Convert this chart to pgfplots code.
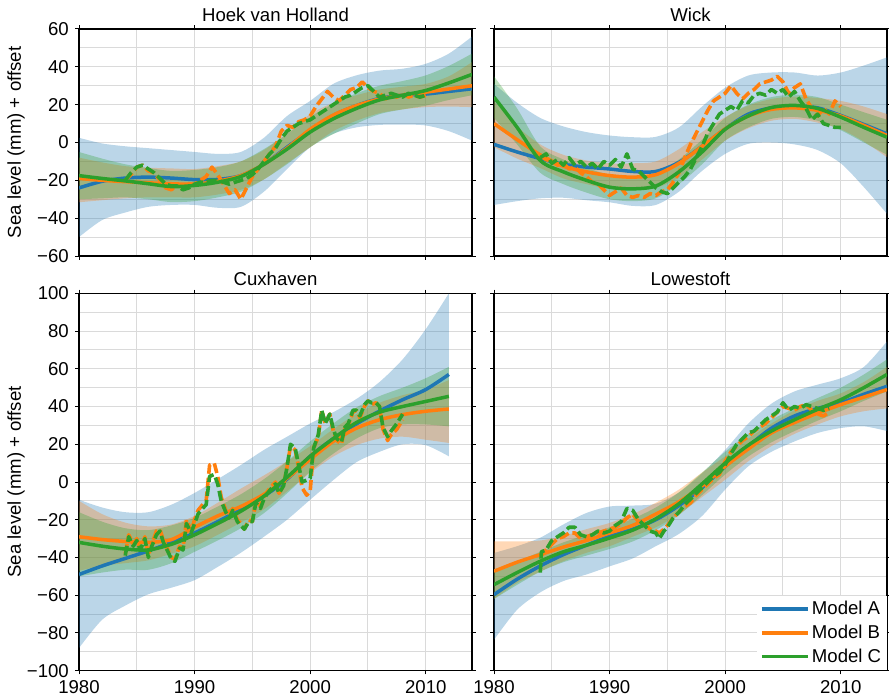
\documentclass[border=0pt]{standalone}
\usepackage{pgfplots}
\pgfplotsset{compat=1.18}
\usepackage{pgfplotstable}
\usepgfplotslibrary{fillbetween}
\usepackage{fontspec}
\setmainfont{Liberation Sans}

\definecolor{cA}{HTML}{1F77B4}
\definecolor{cB}{HTML}{FF7F0E}
\definecolor{cC}{HTML}{2CA02C}
\definecolor{gridc}{HTML}{DADADA}

% model fits and bands: yr, A, A low/high, B, B low/high, C, C low/high
\pgfplotstableread{
yr   A     Alo   Ahi   B     Blo   Bhi   C     Clo   Chi
1980 -24   -50   2.5   -19   -31.6 -8    -17.5 -30   -5
1982 -20.5 -41   -0.5  -20   -30.5 -10.5 -19   -29.5 -8.5
1984 -18.8 -37   -2    -20.7 -29.5 -12.5 -20.3 -29   -11.5
1986 -18.3 -34   -3    -21.3 -29   -13.3 -21.8 -30   -13.5
1988 -18.8 -33   -4    -21.8 -29   -13.7 -23.3 -31.5 -15
1990 -19.6 -33   -5    -22   -29   -14   -22.7 -31   -14.5
1992 -19.5 -34.5 -6    -20.5 -27.5 -12.5 -21   -29   -13
1994 -17.5 -34   -5    -17.5 -25   -10   -18   -26   -10
1996 -11.5 -26   2.5   -11.5 -19.5 -4    -11.5 -19.5 -3.5
1998 -2.5  -14   14    -3    -11   5     -3.5  -11.5 4.5
2000 6.3   -2.5  22    7     -2.5  15    5.5   -2.5  13.5
2002 14.3  4.6   31    14.5  6     21    12.5  4.5   20.5
2004 19.5  8     35.5  19.5  11.5  25    18    10    26
2006 23.3  9.3   38    23    15.5  28    22.5  15    30
2008 25    9.5   39    25    17.5  29.5  25    17.5  32.5
2010 25.6  9     41.6  26.6  18.7  31    27.5  19.5  35.5
2012 27    6     47    28.3  19    35    31.5  22.5  40.5
2014 28.4  1     56    30    18.7  42.5  36    25    47
}\hoekfit

\pgfplotstableread{
yr   A     Alo   Ahi   B     Blo   Bhi   C     Clo   Chi
1980 -1    -33   31    10    -2.5  22    24    13    35
1982 -5    -31   21    1.5   -8.5  8.5   8     -1    18
1984 -8.5  -29.5 13    -6.5  -13.5 -1    -9.5  -16   -2
1986 -11.5 -29.2 8.5   -12.5 -19   -6.5  -15.5 -22   -9
1988 -13   -30.5 5.5   -15.5 -22   -9.5  -20   -26.5 -13.5
1990 -14   -31.6 3.7   -17.5 -24.5 -11   -23.6 -30   -17
1992 -15.3 -33.5 2.8   -18.3 -25   -11   -24.5 -31   -18
1994 -15.3 -33   3     -17   -24   -10   -23   -29.5 -16.5
1996 -10.5 -26   8     -11   -18.5 -3.5  -15.5 -22   -9
1998 -2    -15   19    -2    -9    5.5   -5    -11.5 1.5
2000 7.2   -6    29    7.2   1     13.4  7     1     13
2002 15    -0.7  35.4  14    7.5   19.5  14    8     20
2004 18.3  0     37    17.5  11.5  23    18.5  12.5  24
2006 19.3  -1    37    18.3  12.5  24.3  19.6  13.5  25.3
2008 18.3  -4    35.4  17    10.5  23.5  18    11.5  24
2010 14.3  -11   37    14    7     22    13.4  6.5   20
2012 9.5   -23.6 40.7  9     0.5   19    8     0     16
2014 4.6   -37.7 45    3.7   -7.8  15    2.8   -6.5  12
}\wickfit

\pgfplotstableread{
yr   A     Alo   Ahi   B     Blo   Bhi   C     Clo   Chi
1980 -49   -88   -9.4  -29   -47   -10   -32   -50   -16
1982 -44.5 -73   -13.5 -30.5 -44.5 -17   -34   -48   -21
1984 -40.5 -65.5 -16   -31.5 -43   -21.5 -35.5 -46.5 -24.5
1986 -36.5 -59.5 -16   -32   -41.5 -23.5 -36   -46.5 -25.5
1988 -32   -56   -12   -30.5 -38   -22.5 -33   -43   -23
1990 -27   -52   -5.8  -24   -34   -18   -28   -37   -19
1992 -21   -45   1.5   -18   -28   -11   -22   -31   -13
1994 -14.5 -37.5 9     -13   -21.5 -3.5  -15.5 -24.5 -6.5
1996 -7.5  -29   17    -6.5  -14.5 3.5   -7.5  -16.5 1.5
1998 1.5   -20   24    2     -5    11    2.5   -6    11
2000 13.6  -9.4  31    12    4.8   19    13.6  5.5   21.5
2002 23    1     37    21.5  13.5  28    23    15    31
2004 30.8  10.5  44    28.5  19.5  36    31.5  23    39.5
2006 37.6  16    53    33    23    42    37    28.5  45.5
2008 43.6  20    65    35.7  24    46    40    30.5  50
2010 49    19.5  81    37.5  22.4  49    42.7  30.5  55
2012 57    13.6  100   38.7  20.7  54    45.4  29.5  61
}\cuxfit

\pgfplotstableread{
yr   A     Alo   Ahi   B     Blo   Bhi   C     Clo   Chi
1980 -59.7 -83.6 -37.6 -47.3 -62   -31.4 -54.4 -62   -46.5
1982 -51.5 -67.7 -34   -42.5 -53.5 -31.5 -48   -54.5 -42
1984 -44.5 -58.5 -29.5 -38.5 -47.5 -31   -42   -47.5 -37
1986 -38.5 -52.5 -22.5 -34.5 -42   -28.5 -37   -42.5 -32
1988 -33.5 -49   -16.4 -31   -37.5 -25   -33.5 -39   -28
1990 -28.8 -44.7 -13   -27   -34   -21.7 -29.7 -35.5 -24
1992 -25   -40.5 -12.5 -23   -29   -17   -25.5 -31.5 -19.5
1994 -20   -34   -11.5 -17   -24   -11   -19.5 -25.5 -13.5
1996 -12.5 -27.5 -5.5  -10.5 -17   -4    -11.5 -17.5 -5.5
1998 -3    -18   4.5   -2    -8    5     -1    -7    5
2000 8.3   -4    17    8.3   1.2   13.6  10    4     16
2002 19    8.3   31    17.5  11    23    19.5  13.5  25.5
2004 28.5  16    41.5  26    19    31    27    21    33
2006 35    21.5  48    31.5  25.5  38    33    27    39
2008 39    26    51.6  36.5  30.5  43    38.5  32.5  44.5
2010 42    28.6  55    41    34.8  47    43.6  37.5  50
2012 46.5  29.5  61    45    37.5  53    50    43    57
2014 50.7  27    74.5  49    39    61    57    48    65
}\lowfit

% observed (dashed) series: yr, B, C
\pgfplotstableread{
yr     B    C
1984.0 -20  -20
1984.5 -17  -16
1985.0 -13  -13
1985.5 -12  -12
1986.0 -15  -14
1986.5 -16  -16
1987.0 -20  -19
1987.5 -24  -22
1988.0 -25  -23
1988.5 -22  -23
1989.0 -24  -25
1989.5 -22  -24
1990.0 -22  -22
1990.5 -20  -21
1991.0 -18  -21
1991.5 -13  -20
1992.0 -17  -20
1992.5 -22  -21
1993.0 -27  -22
1993.5 -25  -21
1994.0 -30  -20
1994.5 -24  -19
1995.0 -18  -17
1995.5 -14  -14
1996.0 -10  -10
1996.5 -6   -6
1997.0 -2   -3
1997.5 6    2
1998.0 9    6
1998.5 8    8
1999.0 11   10
1999.5 12   11
2000.0 14   12
2000.5 19   14
2001.0 23   16
2001.5 27   18
2002.0 24   20
2002.5 22   22
2003.0 25   24
2003.5 28   25
2004.0 29   27
2004.5 32   29
2005.0 29   30
2005.5 27   27
2006.0 26   24
2006.5 23   25
2007.0 25   26
2007.5 24   25
2008.0 26   24
2008.5 24   26
2009.0 25   25
2009.5 24   24
2010.0 25   25
}\hoekobs

\pgfplotstableread{
yr     B    C
1984.0 -7   -8
1984.5 -9   -6
1985.0 -10  -11
1985.5 -12  -9
1986.0 -11  -12
1986.5 -14  -8
1987.0 -13  -12
1987.5 -16  -10
1988.0 -18  -13
1988.5 -21  -11
1989.0 -22  -14
1989.5 -25  -10
1990.0 -28  -12
1990.5 -26  -9
1991.0 -24  -13
1991.5 -28  -6
1992.0 -29  -14
1992.5 -28  -15
1993.0 -29  -18
1993.5 -27  -21
1994.0 -28  -24
1994.5 -26  -26
1995.0 -25  -27
1995.5 -21  -24
1996.0 -16  -21
1996.5 -8   -18
1997.0 -1   -14
1997.5 5    -8
1998.0 11   -2
1998.5 17   5
1999.0 22   10
1999.5 24   15
2000.0 26   17
2000.5 30   19
2001.0 26   17
2001.5 23   22
2002.0 26   21
2002.5 28   25
2003.0 31   26
2003.5 32   25
2004.0 33   28
2004.5 35   26
2005.0 32   28
2005.5 26   24
2006.0 29   27
2006.5 31   22
2007.0 23   18
2007.5 18   12
2008.0 14   15
2008.5 18   10
2009.0 15   9
2009.5 22   8
2010.0 19   8
}\wickobs

\pgfplotstableread{
yr     B    C
1984.0 -38  -39
1984.3 -28  -29
1984.7 -33  -34
1985.0 -30  -31
1985.3 -36  -36
1985.7 -29  -30
1986.0 -39  -40
1986.3 -33  -34
1986.7 -26  -28
1987.0 -25  -26
1987.3 -31  -32
1987.7 -36  -37
1988.0 -40  -41
1988.3 -41  -42
1988.7 -34  -35
1989.0 -35  -36
1989.3 -20  -22
1989.7 -26  -27
1990.0 -20  -22
1990.3 -15  -17
1990.7 -12  -14
1991.0 -10  -12
1991.3 9    3
1991.7 10   4
1992.0 3    -1
1992.3 -8   -10
1992.7 -15  -16
1993.0 -18  -19
1993.3 -14  -15
1993.7 -20  -21
1994.0 -22  -23
1994.3 -25  -25
1994.7 -20  -21
1995.0 -21  -21
1995.3 -10  -11
1995.7 -13  -14
1996.0 -8   -9
1996.3 -5   -6
1996.7 -2   -3
1997.0 0    -1
1997.3 -6   -6
1997.7 -2   -2
1998.0 8    8
1998.3 19   20
1998.7 17   18
1999.0 8    9
1999.3 -3   0
1999.7 -7   1
2000.0 -5   2
2000.3 18   18
2000.7 24   25
2001.0 38   38
2001.3 31   31
2001.7 36   36
2002.0 27   28
2002.3 22   23
2002.7 20   21
2003.0 28   29
2003.3 30   31
2003.7 37   38
2004.0 38   38
2004.3 34   35
2004.7 40   41
2005.0 43   43
2005.3 41   42
2005.7 42   42
2006.0 40   40
2006.3 28   29
2006.7 22   24
2007.0 25   27
2007.5 28   31
2008.0 33   36
}\cuxobs

\pgfplotstableread{
yr     B    C
1984.0 -40  -48
1984.1 -39  -37
1984.5 -36  -36
1985.0 -33  -31
1985.5 -30  -29
1986.0 -29  -27
1986.5 -27  -24
1987.0 -27  -24
1987.5 -30  -28
1988.0 -29  -29
1988.5 -28  -28
1989.0 -27  -26
1989.5 -26  -27
1990.0 -25  -26
1990.5 -24  -23
1991.0 -22  -21
1991.5 -19  -14
1992.0 -17  -15
1992.5 -21  -20
1993.0 -22  -23
1993.5 -25  -26
1994.0 -26  -27
1994.3 -27  -30
1994.7 -25  -26
1995.0 -23  -24
1995.5 -19  -19
1996.0 -16  -16
1996.5 -13  -12
1997.0 -11  -9
1997.5 -7   -6
1998.0 -4   -3
1998.5 -1   0
1999.0 2    3
1999.5 4    5
2000.0 11   9
2000.5 16   15
2001.0 19   20
2001.5 22   23
2002.0 24   26
2002.5 27   27
2003.0 29   30
2003.5 31   33
2004.0 34   35
2004.5 37   37
2005.0 40   42
2005.5 39   38
2006.0 38   40
2006.5 40   39
2007.0 41   41
2007.5 38   40
2008.0 36   39
2008.5 35   38
2009.0 37   39
}\lowobs

\pgfplotsset{
  panel/.style={
    scale only axis, width=196.5pt,
    xmin=1980, xmax=2014,
    xtick={1980,1990,2000,2010},
    minor xtick={1985,1995,2005},
    grid=both,
    major grid style={gridc, line width=0.5pt},
    minor grid style={gridc, line width=0.5pt},
    tick align=outside,
    major tick length=1.8pt,
    minor tick length=0pt,
    tick style={black, line width=0.5pt},
    axis line style={line width=0.6pt},
    xticklabels={},
    yticklabels={},
    every axis title/.style={at={(axis description cs:0.5,1)}, anchor=base,
      yshift=3.8pt},
    every axis y label/.style={at={([xshift=-31.5pt]axis description cs:0,0.5)},
      rotate=90, anchor=center},
  },
  toprow/.style={height=113.5pt, ymin=-60, ymax=60,
    ytick={-60,-40,-20,0,20,40,60}, minor ytick={-50,-30,-10,10,30,50}},
  botrow/.style={height=188.7pt, ymin=-100, ymax=100,
    ytick={-100,-80,-60,-40,-20,0,20,40,60,80,100},
    minor ytick={-90,-70,-50,-30,-10,10,30,50,70,90},
    xticklabels={1980,1990,2000,2010}},
  lefty/.style={ylabel={Sea level (mm) + offset}},
  fit/.style={line width=1.75pt, smooth},
  obs/.style={line width=1.8pt, dash pattern=on 5pt off 2pt, line join=round},
}

\newcommand\drawmodels[2]{%
  \addplot[name path=ahi, draw=none, smooth] table[x=yr, y=Ahi] {#1};
  \addplot[name path=alo, draw=none, smooth] table[x=yr, y=Alo] {#1};
  \addplot[cA, fill opacity=0.3, draw=none] fill between[of=ahi and alo];
  \addplot[name path=bhi, draw=none, smooth] table[x=yr, y=Bhi] {#1};
  \addplot[name path=blo, draw=none, smooth] table[x=yr, y=Blo] {#1};
  \addplot[cB, fill opacity=0.3, draw=none] fill between[of=bhi and blo];
  \addplot[name path=chi, draw=none, smooth] table[x=yr, y=Chi] {#1};
  \addplot[name path=clo, draw=none, smooth] table[x=yr, y=Clo] {#1};
  \addplot[cC, fill opacity=0.3, draw=none] fill between[of=chi and clo];
  \addplot[cA, fit] table[x=yr, y=A] {#1};
  \addplot[cB, fit] table[x=yr, y=B] {#1};
  \addplot[cB, obs] table[x=yr, y=B] {#2};
  \addplot[cC, fit] table[x=yr, y=C] {#1};
  \addplot[cC, obs] table[x=yr, y=C] {#2};
}

\begin{document}
\fontsize{9.3}{11}\selectfont
\begin{tikzpicture}

\begin{axis}[panel, toprow, lefty, at={(39.5pt,334.5pt)}, anchor=north west,
  title={Hoek van Holland},
  yticklabels={−60,−40,−20,0,20,40,60}]
\drawmodels{\hoekfit}{\hoekobs}
\end{axis}

\begin{axis}[panel, toprow, at={(247pt,334.5pt)}, anchor=north west,
  title={Wick}]
\drawmodels{\wickfit}{\wickobs}
\end{axis}

\begin{axis}[panel, botrow, lefty, at={(39.5pt,202.35pt)}, anchor=north west,
  title={Cuxhaven},
  yticklabels={−100,−80,−60,−40,−20,0,20,40,60,80,100}]
\drawmodels{\cuxfit}{\cuxobs}
\end{axis}

\begin{axis}[panel, botrow, at={(247pt,202.35pt)}, anchor=north west,
  title={Lowestoft},
  legend style={at={(axis description cs:1,0)}, anchor=south east,
    draw=none, fill=white, row sep=1.4pt, inner sep=1.5pt,
    nodes={inner sep=1.2pt}},
  legend cell align=left,
  legend image code/.code={\draw[#1, line width=1.6pt] (0pt,0pt) -- (23pt,0pt);}]
\addlegendimage{cA}
\addlegendimage{cB}
\addlegendimage{cC}
\drawmodels{\lowfit}{\lowobs}
\legend{Model A, Model B, Model C}
\end{axis}

\pgfresetboundingbox
\useasboundingbox (0,0) rectangle (444.5pt,349pt);
\end{tikzpicture}
\end{document}
